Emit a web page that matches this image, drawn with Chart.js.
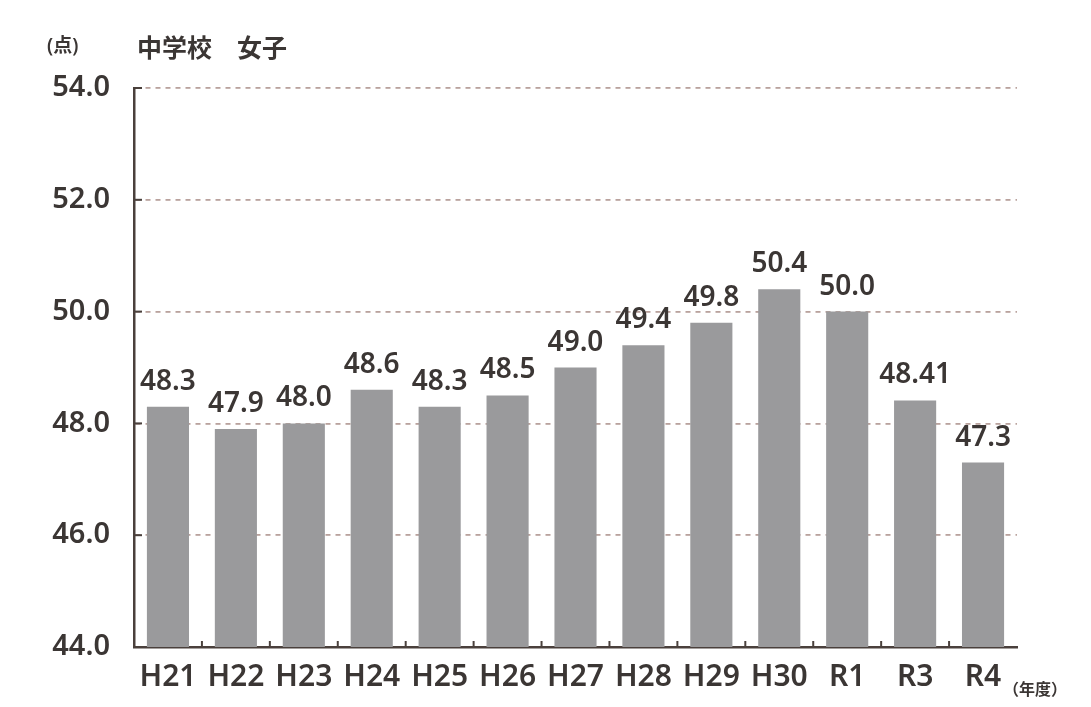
<!DOCTYPE html>
<html>
<head>
<meta charset="utf-8">
<script src="https://cdn.jsdelivr.net/npm/chart.js@4.4.1/dist/chart.umd.min.js"></script>
<style>
  html, body { margin: 0; padding: 0; background: #ffffff; }
  #wrap { width: 1091px; height: 707px; position: relative; }
</style>
</head>
<body>
<div id="wrap"><canvas id="c" width="1091" height="707"></canvas></div>
<script>
const categories = ['H21','H22','H23','H24','H25','H26','H27','H28','H29','H30','R1','R3','R4'];
const scores = [48.3, 47.9, 48.0, 48.6, 48.3, 48.5, 49.0, 49.4, 49.8, 50.4, 50.0, 48.41, 47.3];
const yTicks = [44.0, 46.0, 48.0, 50.0, 52.0, 54.0];
const titleText = '中学校\u3000女子';
const unitText = '(点)';
const xUnitText = '（年度）';

const TEXT = '#3b3634';
const AXIS = '#4a403c';
const GRID = '#b9a29d';
const FONT = '"Noto Sans", "Noto Sans CJK JP", sans-serif';

function fmt(v) {
  const s = String(v);
  return s.includes('.') ? s : v.toFixed(1);
}

const extras = {
  id: 'extras',
  afterDatasetsDraw(chart) {
    const ctx = chart.ctx;
    const meta = chart.getDatasetMeta(0);
    ctx.save();
    ctx.fillStyle = TEXT;
    ctx.font = '600 28px ' + FONT;
    ctx.textAlign = 'center';
    ctx.textBaseline = 'alphabetic';
    meta.data.forEach((bar, i) => {
      ctx.fillText(fmt(scores[i]), bar.x, bar.y - 17);
    });
    // titles
    ctx.textAlign = 'left';
    ctx.textBaseline = 'middle';
    ctx.font = '600 19px ' + FONT;
    ctx.fillText(unitText, 47, 47);
    ctx.font = 'bold 25px "Noto Sans CJK JP", sans-serif';
    ctx.fillText(titleText, 137, 47);
    ctx.font = '600 16px "Noto Sans CJK JP", sans-serif';
    ctx.fillText(xUnitText, 1003, 689);
    // y axis inner ticks
    const y = chart.scales.y;
    const xa = chart.scales.x;
    ctx.strokeStyle = AXIS;
    ctx.lineWidth = 2;
    yTicks.forEach(t => {
      const py = y.getPixelForValue(t);
      ctx.beginPath();
      ctx.moveTo(chart.chartArea.left, py);
      ctx.lineTo(chart.chartArea.left + 8, py);
      ctx.stroke();
    });
    // x axis boundary ticks
    for (let i = 1; i < categories.length; i++) {
      const px = (xa.getPixelForValue(i - 1) + xa.getPixelForValue(i)) / 2;
      ctx.beginPath();
      ctx.moveTo(px, chart.chartArea.bottom);
      ctx.lineTo(px, chart.chartArea.bottom - 6);
      ctx.stroke();
    }
    ctx.restore();
  }
};

new Chart(document.getElementById('c'), {
  type: 'bar',
  data: {
    labels: categories,
    datasets: [{
      data: scores,
      backgroundColor: '#9a9a9c',
      borderWidth: 0,
      barPercentage: 0.62,
      categoryPercentage: 1.0
    }]
  },
  options: {
    responsive: false,
    animation: false,
    devicePixelRatio: 1,
    layout: { padding: { top: 88, right: 74, left: 0, bottom: 0 } },
    plugins: { legend: { display: false }, tooltip: { enabled: false }, title: { display: false } },
    scales: {
      x: {
        grid: { display: false },
        border: { display: true, color: AXIS, width: 2.5 },
        ticks: { color: TEXT, font: { family: FONT, size: 30, weight: '600' }, padding: 4, maxRotation: 0, autoSkip: false },
        afterFit(scale) { scale.height = 60; }
      },
      y: {
        min: 44, max: 54,
        afterBuildTicks(scale) { scale.ticks = yTicks.map(v => ({ value: v })); },
        grid: { color: GRID, lineWidth: 1.8, drawTicks: false },
        border: { display: true, color: AXIS, width: 2.5, dash: [5, 5] },
        ticks: {
          color: TEXT, padding: 24,
          font: { family: FONT, size: 29, weight: '600' },
          callback: v => Number(v).toFixed(1)
        },
        afterFit(scale) { scale.width = 134; }
      }
    }
  },
  plugins: [extras]
});
</script>
</body>
</html>
